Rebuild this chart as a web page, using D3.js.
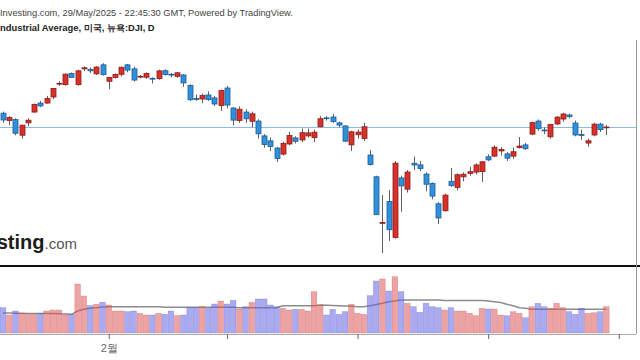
<!DOCTYPE html>
<html><head><meta charset="utf-8">
<script src="https://cdn.jsdelivr.net/npm/d3@7"></script>
<style>body{margin:0;background:#fff}svg{display:block}</style>
</head><body>
<svg id="c" width="640" height="360"></svg>
<script>
const dates = ["2025-01-07","2025-01-08","2025-01-10","2025-01-13","2025-01-14","2025-01-15","2025-01-16","2025-01-17","2025-01-21","2025-01-22","2025-01-23","2025-01-24","2025-01-27","2025-01-28","2025-01-29","2025-01-30","2025-01-31",
"2025-02-03","2025-02-04","2025-02-05","2025-02-06","2025-02-07","2025-02-10","2025-02-11","2025-02-12","2025-02-13","2025-02-14","2025-02-18","2025-02-19","2025-02-20","2025-02-21","2025-02-24","2025-02-25","2025-02-26","2025-02-27","2025-02-28",
"2025-03-03","2025-03-04","2025-03-05","2025-03-06","2025-03-07","2025-03-10","2025-03-11","2025-03-12","2025-03-13","2025-03-14","2025-03-17","2025-03-18","2025-03-19","2025-03-20","2025-03-21","2025-03-24","2025-03-25","2025-03-26","2025-03-27","2025-03-28","2025-03-31",
"2025-04-01","2025-04-02","2025-04-03","2025-04-04","2025-04-07","2025-04-08","2025-04-09","2025-04-10","2025-04-11","2025-04-14","2025-04-15","2025-04-16","2025-04-17","2025-04-21","2025-04-22","2025-04-23","2025-04-24","2025-04-25","2025-04-28","2025-04-29","2025-04-30",
"2025-05-01","2025-05-02","2025-05-05","2025-05-06","2025-05-07","2025-05-08","2025-05-09","2025-05-12","2025-05-13","2025-05-14","2025-05-15","2025-05-16","2025-05-19","2025-05-20","2025-05-21","2025-05-22","2025-05-23","2025-05-27","2025-05-28","2025-05-29"];
const open  = [42830,42500,42550,41850,42400,42880,43280,43280,43550,44130,44100,44600,44100,44800,44780,44580,44980,
44250,44420,44560,44980,44800,44450,44430,44380,44370,44720,44560,44470,44530,44060,43480,43460,43640,43510,43170,
43950,43060,42500,42880,42470,42480,41820,41600,41280,41010,41460,41730,41640,41820,41740,42230,42620,42660,42400,42260,41420,
41870,41700,40970,40000,37960,38900,37300,39950,39450,40600,40530,40120,39700,38800,38490,39800,39530,40000,40150,40210,40230,
40890,40920,41150,41020,40920,41300,41420,41900,42480,42080,41780,42350,42570,42750,42390,41880,41500,41860,42340,42180];
const high  = [42900,42700,42600,42320,42600,43260,43370,43600,43950,44250,44600,44640,44760,44900,44860,44920,45054,
44440,44600,44900,45020,44900,44530,44640,44420,44760,44780,44620,44650,44560,44120,43660,43700,43800,43600,43880,
44040,43100,43130,43000,42900,42560,41900,41750,41330,41560,42000,41800,42150,42150,42100,42700,42700,42800,42450,42300,42050,
42100,42400,41190,40050,39190,39410,40700,40050,40300,40900,40700,40200,39750,38870,39250,40390,40150,40200,40450,40600,40700,
41000,41400,41320,41100,41300,41770,41500,42450,42550,42200,42350,42700,42850,42800,42500,42100,41700,42400,42400,42300];
const low   = [42400,42300,41850,41700,42250,42850,43100,43250,43450,44050,44050,44400,44050,44700,44620,44530,44500,
43900,44370,44470,44650,44240,44380,44350,44150,44320,44500,44420,44400,44000,43370,43380,43280,43380,43150,42930,
43050,42300,42400,42400,42200,41700,41300,41150,40660,40950,41400,41480,41550,41750,41550,42200,42500,42400,42200,41550,41150,
41700,41600,40500,38300,36611,37150,37250,38450,39300,40300,40250,39350,39000,37900,38450,39550,39400,39800,40050,40100,39770,
40700,40880,40950,40700,40800,41250,41200,41850,42050,41900,41700,42300,42450,42600,41800,41650,41340,41800,42000,41860];
const close = [42528,42635,41938,42297,42518,43221,43153,43487,43932,44157,44565,44424,44713,44850,44714,44882,44545,
44421,44556,44873,44747,44303,44470,44593,44368,44711,44546,44556,44627,44176,43428,43461,43621,43433,43239,43841,
43191,42521,43006,42579,42802,41911,41433,41350,40813,41488,41841,41581,41964,41953,41985,42583,42587,42455,42300,41584,42002,
41990,42226,40546,38315,37966,37645,40609,39594,40213,40525,40369,39669,39142,38170,39187,39607,40093,40113,40228,40528,40669,
40753,41317,41219,40829,41114,41368,41249,42410,42140,42052,42323,42655,42793,42677,41860,41859,41603,42343,42098,42215];
const volume = [506,360,440,394,374,374,394,440,460,460,360,374,980,740,546,574,614,
560,440,440,426,440,394,360,360,394,374,440,346,360,506,506,526,494,580,640,
580,654,480,526,614,680,680,560,526,494,460,474,474,440,826,560,360,474,374,426,574,
394,374,746,1040,1080,840,1126,826,594,526,414,594,526,506,460,506,440,440,394,346,494,
480,480,360,346,426,394,306,526,594,526,494,594,506,426,374,494,394,406,426,526];
const volumeMA = [400,398,396,394,392,392,390,390,388,386,380,374,440,474,494,506,520,
526,526,526,526,526,526,526,526,526,514,514,514,514,514,514,514,514,514,514,
514,514,506,506,506,506,506,506,506,546,546,546,546,546,546,560,556,550,546,540,534,
526,526,546,570,594,626,640,660,660,660,660,660,660,660,650,650,650,650,650,650,650,
640,626,610,574,546,506,494,474,474,474,474,474,474,474,474,474,474,474,474,474];
const futureDates = ["2025-05-30","2025-06-02"];
const monthTicks = ["2025-02-03","2025-03-03","2025-04-01","2025-05-01","2025-06-02"];
const monthLabels = ["2월","","","",""];
const lastPrice = 42215;
const headerLine = "Investing.com, 29/May/2025 - 22:45:30 GMT, Powered by TradingView.";
const titleHidden = "Dow Jones I";
const titleShown = "ndustrial Average, 미국, 뉴욕:DJI, D";

const svg = d3.select("#c");
const font = "'Liberation Sans', Arial, sans-serif";

const x = d3.scalePoint().domain(dates.concat(futureDates)).range([3, 3 + 99 * 6.22]);
const y = d3.scaleLinear().domain([36077, 46085]).range([265, 40]);
const yv = d3.scaleLinear().domain([0, 1300]).range([333, 268]);

// header
svg.append("text").attr("x", 0).attr("y", 16).attr("font-family", font).attr("font-size", 9.3)
  .attr("fill", "#444").text(headerLine);
// title: shift so that "ndustrial" starts at the left edge, as in the cropped original
const t = svg.append("text").attr("y", 31).attr("font-family", font)
  .attr("font-size", 9.4).attr("font-weight", "bold").attr("fill", "#222");
const t1 = t.append("tspan").text(titleHidden);
t.append("tspan").text(titleShown);
const hiddenW = t1.node().getComputedTextLength();
t.attr("x", -hiddenW);

// watermark
const wm = svg.append("text").attr("x", 77).attr("y", 249).attr("text-anchor", "end").attr("font-family", font);
wm.append("tspan").attr("font-size", 20).attr("font-weight", "bold").attr("fill", "#1c1c1c").text("Investing");
wm.append("tspan").attr("font-size", 15).attr("fill", "#555").text(".com");

// last price line
svg.append("line").attr("x1", 0).attr("x2", 636).attr("y1", Math.round(y(lastPrice)) + 0.5).attr("y2", Math.round(y(lastPrice)) + 0.5)
  .attr("stroke", "#8dbbe8").attr("stroke-width", 1);

const data = dates.map((d, i) => ({d, o: open[i], h: high[i], l: low[i], c: close[i], v: volume[i], ma: volumeMA[i]}));

// candles
const g = svg.append("g");
const cand = g.selectAll("g.c").data(data).join("g");
cand.append("line")
  .attr("x1", d => Math.round(x(d.d)) + 0.5).attr("x2", d => Math.round(x(d.d)) + 0.5)
  .attr("y1", d => y(d.h)).attr("y2", d => y(d.l))
  .attr("stroke", "#5f5f5f").attr("stroke-width", 1);
cand.append("rect")
  .attr("x", d => Math.round(x(d.d)) - 2)
  .attr("width", 5)
  .attr("y", d => Math.min(y(d.o), y(d.c)))
  .attr("height", d => Math.max(0.8, Math.abs(y(d.o) - y(d.c))))
  .attr("fill", d => d.c >= d.o ? "#d6312b" : "#2f90dc")
  .attr("stroke", d => d.c >= d.o ? "#8e1c18" : "#1a5c98")
  .attr("stroke-width", 0.8);

// separator
svg.append("rect").attr("x", 0).attr("y", 265).attr("width", 640).attr("height", 2).attr("fill", "#111");

// volume MA line (behind bars)
svg.append("path").datum(data)
  .attr("d", d3.line().x(d => x(d.d)).y(d => yv(d.ma)))
  .attr("fill", "none").attr("stroke", "#8c8c8c").attr("stroke-width", 1.5);

// volume bars
svg.append("g").selectAll("rect").data(data).join("rect")
  .attr("x", d => x(d.d) - 2.8).attr("width", 5.6)
  .attr("y", d => yv(d.v)).attr("height", d => yv(0) - yv(d.v))
  .attr("fill", d => d.c >= d.o ? "rgba(222,88,88,0.55)" : "rgba(100,100,228,0.55)")
  .attr("stroke", d => d.c >= d.o ? "rgba(200,80,80,0.5)" : "rgba(90,90,200,0.5)")
  .attr("stroke-width", 0.5);

// bottom axis
const axis = d3.axisBottom(x).tickValues(monthTicks).tickSize(5).tickSizeOuter(0)
  .tickFormat((d, i) => monthLabels[i]);
const ax = svg.append("g").attr("transform", "translate(0,334)").call(axis);
ax.select(".domain").attr("stroke", "#aaa").attr("d", "M0,0.5H636");
ax.selectAll(".tick line").attr("stroke", "#666");
ax.selectAll(".tick text").attr("font-family", font).attr("font-size", 11).attr("fill", "#666").attr("dy", "0.9em");

// right border
svg.append("line").attr("x1", 636.5).attr("x2", 636.5).attr("y1", 40).attr("y2", 334).attr("stroke", "#999");
</script>
</body></html>
